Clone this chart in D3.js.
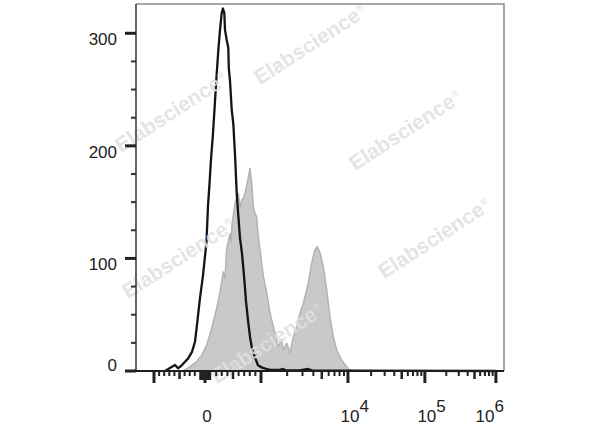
<!DOCTYPE html>
<html><head><meta charset="utf-8">
<script src="https://cdn.jsdelivr.net/npm/d3@7"></script>
<style>html,body{margin:0;padding:0;background:#fff;}svg{display:block;}</style>
</head><body>
<script>
// ---- data ----
// black (isotype control) histogram: intensity, count
const blackX = [-784,-647,-588,-529,-451,-392,-333,-255,-196,-157,-98,-39,27,54,80,107,143,179,209,238,268,298,321,345,357,388,416,425,446,477,505,536,566,598,625,661,696,732,768,804,839,893,946,1027,1141,1269,1653,1791,1937,2806,3467,3855,10540,1000000];
const blackY = [0,3.8,5.3,2.4,5.3,8.2,11,17,26,41,65,85,115,147,166,188,211,240,264,285,303,318,322,318,303,294,287,269,258,232,220,192,158,136,118,104,85,62,45,30,20,12,5,3,2,1,1,1.8,0.5,0.5,1.8,0.5,0.3,0];
// grey (stained) histogram
const greyX = [-450,-392,-294,-163,-65,30,120,209,268,327,357,388,446,464,482,536,595,625,655,684,714,745,773,804,834,863,893,923,952,982,1063,1163,1269,1385,1515,1568,1653,1720,1804,1974,2153,2351,2572,2806,3064,3498,3826,4176,4437,4767,5203,5692,6211,6776,7416,8465,9663,10540,12030];
const greyY = [0,1,3.8,8.3,14,23,38,56,70,88,82,109,122,114,130,149,158,145,152,153,158,165,172,180,167,146,140,137,119,108,84,69.5,51.5,39.6,27.5,22,24.8,28,18.6,24.8,16,30.4,39.6,51.5,60,78,96,108,110.5,105,93,72,48.5,30.4,18.6,9.8,3.8,0.9,0];

const yMax = 326;
const yMajor = [0,100,200,300];
const yMinor = [25,50,75,125,150,175,225,250,275];
const xMajor = [-1000,0,1000,1e4,1e5,1e6];
const xMedium = [-500,500,5000,5e4,5e5];
const xMinor = [-900,-800,-700,-600,-400,-300,-200,200,300,400,600,700,800,900,
  2000,3000,4000,6000,7000,8000,9000,2e4,3e4,4e4,6e4,7e4,8e4,9e4,2e5,3e5,4e5,6e5,7e5,8e5,9e5];
const xDense = d3.range(-100,101,10);
const xLabelValues = [0,1e4,1e5,1e6];
const xLabelBase = ["0","10","10","10"];
const xLabelExp = ["","4","5","6"];
const watermark = "Elabscience";

// ---- layout ----
const Wd = 600, Ht = 427;
const L = 136, R = 504, T = 4, B = 371;
const svg = d3.select("body").append("svg").attr("width",Wd).attr("height",Ht);
svg.append("rect").attr("width",Wd).attr("height",Ht).attr("fill","#fff");

// biexponential-like transform: linear within ±1000, log10 outside
function biex(v){const a=Math.abs(v);return a<=1000? v*3/1000 : Math.sign(v)*Math.log10(a);}
const W = R-L;
const xg = d3.scaleLinear().domain([-3,0,3,4,5,6])
  .range([0.0489,0.1875,0.3397,0.576,0.785,0.978].map(f=>L+f*W));
const x = v => xg(biex(v));
const y = d3.scaleLinear().domain([0,yMax]).range([B,T]);

const greyData = greyX.map((v,i)=>[v,greyY[i]]);
const blackData = blackX.map((v,i)=>[v,blackY[i]]);

const g = svg.append("g");
g.append("path").datum(greyData)
  .attr("d",d3.area().x(d=>x(d[0])).y0(y(0)).y1(d=>y(d[1])))
  .attr("fill","#c9c9c9").attr("stroke","#b3b3b3").attr("stroke-width",1.5).attr("stroke-linejoin","round");
g.append("path").datum(blackData)
  .attr("d",d3.line().x(d=>x(d[0])).y(d=>y(d[1])))
  .attr("fill","none").attr("stroke","#141414").attr("stroke-width",2.3).attr("stroke-linejoin","round");

// watermarks
const wmCenters = [[310,44],[405,130],[434,238],[171,112],[178,258],[267,343]];
wmCenters.forEach(c=>{
  const t = svg.append("text").attr("transform",`translate(${c[0]},${c[1]}) rotate(-33)`)
    .attr("text-anchor","middle").attr("dy","0.35em")
    .attr("font-family","Liberation Sans, Arial, sans-serif").attr("font-weight","bold")
    .attr("font-size",21).attr("fill","#e0e0e0").attr("fill-opacity",0.85);
  t.append("tspan").text(watermark);
  t.append("tspan").attr("font-size",9).attr("dy","-0.9em").attr("dx","1").text("®");
});

// frame
svg.append("path").attr("d",`M${L},${T}H${R}V${B}`).attr("fill","none").attr("stroke","#8a8a8a").attr("stroke-width",1.5);
svg.append("line").attr("x1",L).attr("x2",L).attr("y1",T).attr("y2",B).attr("stroke","#555").attr("stroke-width",1.8);
svg.append("line").attr("x1",L-11).attr("x2",R).attr("y1",B).attr("y2",B).attr("stroke","#1e1e1e").attr("stroke-width",2);

// y ticks
const yAxis = svg.append("g");
yMajor.forEach(v=>yAxis.append("line").attr("x1",L-11).attr("x2",L).attr("y1",y(v)).attr("y2",y(v)).attr("stroke","#222").attr("stroke-width",3));
yMinor.forEach(v=>yAxis.append("line").attr("x1",L-5).attr("x2",L).attr("y1",y(v)).attr("y2",y(v)).attr("stroke","#333").attr("stroke-width",2));
yMajor.forEach(v=>yAxis.append("text").attr("x",117).attr("y",y(v)+(v===0?-6:6)).attr("dy","0.35em")
  .attr("text-anchor","end").attr("font-family","Liberation Sans, Arial, sans-serif").attr("font-size",17).attr("fill","#222").text(v));

// x ticks
const xAxis = svg.append("g");
function xt(vals,len,w){vals.forEach(v=>xAxis.append("line").attr("x1",x(v)).attr("x2",x(v)).attr("y1",B).attr("y2",B+len).attr("stroke","#222").attr("stroke-width",w));}
xt(xMinor,5,2);
xt(xDense,9,1.2);
xt(xMedium,8,2.5);
xt(xMajor,12,3);

xLabelValues.forEach((v,i)=>{
  const t = xAxis.append("text").attr("y",422).attr("font-family","Liberation Sans, Arial, sans-serif")
    .attr("font-size",17).attr("fill","#222");
  t.append("tspan").text(xLabelBase[i]);
  if (xLabelExp[i]) t.append("tspan").attr("dy",-10).text(xLabelExp[i]);
  // centre the base number on its tick, keep the label inside the plot's right edge
  const baseW = t.select("tspan").node().getComputedTextLength();
  let x0 = x(v) - baseW/2 + 2;
  const tw = t.node().getBBox().width;
  if (x0 + tw > R) x0 = R - tw;
  t.attr("x",x0);
});
</script>
</body></html>
